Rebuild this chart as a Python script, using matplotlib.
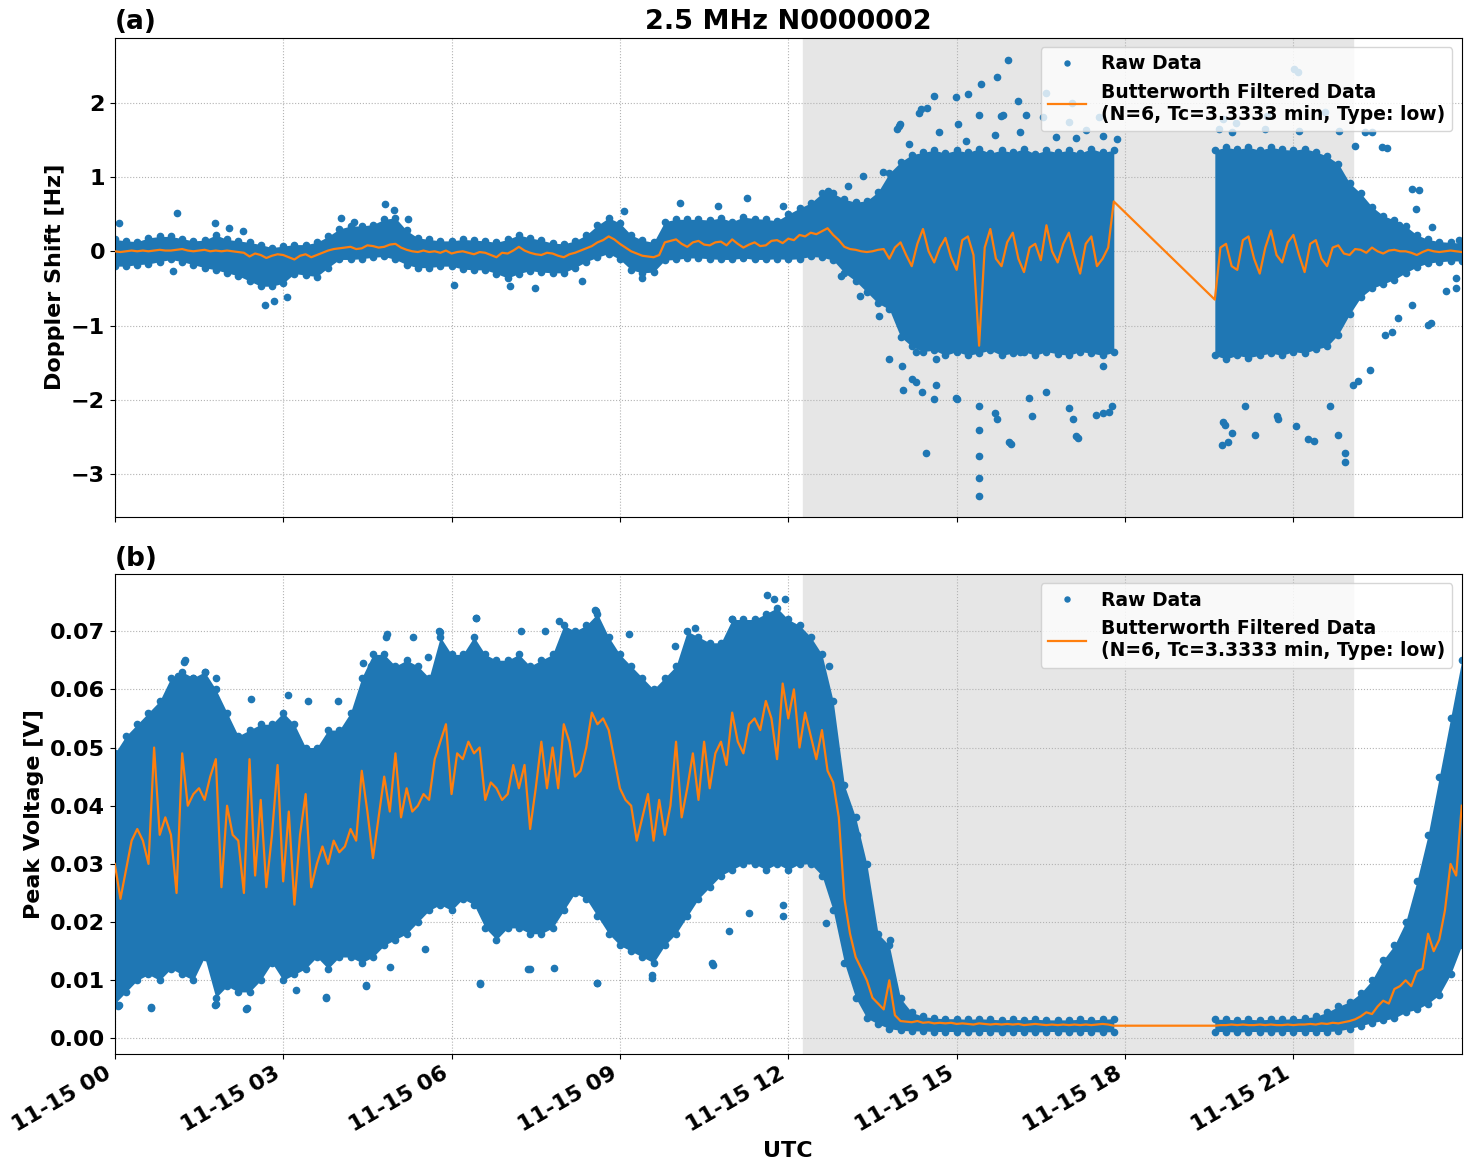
import numpy as np
import matplotlib
matplotlib.use("Agg")
from matplotlib import pyplot as plt
import matplotlib.dates as mdates

plt.rcParams["font.weight"] = "bold"
plt.rcParams["axes.labelweight"] = "bold"
plt.rcParams["axes.titleweight"] = "bold"

# time grids (hours UTC) - two segments, no data between 17.8 h and 19.6 h
hours_a = np.round(np.arange(0, 17.81, 0.2), 1)     # raw-data band
hours_b = np.round(np.arange(19.6, 24.01, 0.2), 1)
filt_hours_a = np.round(np.arange(0, 17.81, 0.1), 1)  # filtered line
filt_hours_b = np.round(np.arange(19.6, 24.01, 0.1), 1)

# (a) Doppler shift: dense band of raw points (low / high edge)
top_hi_a = [0.16, 0.14, 0.13, 0.18, 0.20, 0.20, 0.17, 0.14, 0.15, 0.22,
            0.16, 0.14, 0.12, 0.09, 0.05, 0.07, 0.09, 0.09, 0.12, 0.20,
            0.30, 0.34, 0.34, 0.36, 0.43, 0.45, 0.28, 0.18, 0.16, 0.14,
            0.14, 0.16, 0.15, 0.14, 0.12, 0.16, 0.22, 0.18, 0.15, 0.11,
            0.10, 0.14, 0.22, 0.35, 0.45, 0.38, 0.22, 0.15, 0.12, 0.40,
            0.43, 0.43, 0.43, 0.42, 0.45, 0.40, 0.46, 0.44, 0.43, 0.41,
            0.50, 0.58, 0.65, 0.78, 0.78, 0.70, 0.66, 0.68, 0.80, 1.05,
            1.20, 1.30, 1.33, 1.36, 1.32, 1.36, 1.33, 1.38, 1.32, 1.36,
            1.33, 1.38, 1.31, 1.36, 1.33, 1.36, 1.32, 1.38, 1.33, 1.36]
top_hi_b = [1.36, 1.40, 1.37, 1.40, 1.36, 1.40, 1.37, 1.36, 1.38, 1.34,
            1.28, 1.18, 0.92, 0.78, 0.60, 0.48, 0.42, 0.34, 0.22, 0.16,
            0.13, 0.12, 0.11]
top_lo_a = [-0.20, -0.20, -0.18, -0.17, -0.14, -0.11, -0.14, -0.18, -0.22, -0.25,
            -0.29, -0.33, -0.40, -0.47, -0.47, -0.43, -0.30, -0.32, -0.34, -0.22,
            -0.11, -0.11, -0.10, -0.08, -0.07, -0.11, -0.18, -0.22, -0.22, -0.20,
            -0.20, -0.24, -0.25, -0.25, -0.30, -0.36, -0.30, -0.26, -0.28, -0.29,
            -0.29, -0.22, -0.14, -0.08, -0.03, -0.11, -0.25, -0.29, -0.28, -0.12,
            -0.11, -0.09, -0.09, -0.10, -0.11, -0.11, -0.09, -0.11, -0.11, -0.10,
            -0.11, -0.10, -0.07, -0.08, -0.12, -0.29, -0.40, -0.55, -0.70, -0.78,
            -1.15, -1.28, -1.35, -1.33, -1.40, -1.35, -1.40, -1.37, -1.33, -1.40,
            -1.37, -1.35, -1.40, -1.35, -1.38, -1.40, -1.35, -1.37, -1.40, -1.36]
top_lo_b = [-1.40, -1.45, -1.40, -1.43, -1.40, -1.37, -1.40, -1.35, -1.37, -1.32,
            -1.28, -1.12, -0.85, -0.62, -0.50, -0.44, -0.38, -0.29, -0.21, -0.16,
            -0.14, -0.13, -0.13]
# Butterworth filtered Doppler shift
top_filt_a = [0.00, -0.01, 0.00, 0.01, 0.00, 0.01, 0.00, 0.01, 0.02, 0.01,
              0.01, 0.02, 0.03, 0.01, 0.00, 0.01, 0.02, 0.00, 0.01, 0.00,
              0.01, 0.00, -0.01, -0.02, -0.07, -0.03, -0.05, -0.09, -0.06, -0.04,
              -0.05, -0.08, -0.11, -0.06, -0.04, -0.08, -0.05, -0.02, 0.01, 0.03,
              0.04, 0.05, 0.06, 0.03, 0.04, 0.08, 0.07, 0.05, 0.06, 0.09,
              0.10, 0.05, 0.02, 0.00, -0.01, 0.01, -0.01, 0.00, -0.02, 0.01,
              -0.03, -0.01, 0.00, -0.02, -0.04, -0.01, -0.02, -0.05, -0.08, -0.02,
              -0.03, 0.01, 0.06, 0.01, -0.02, -0.04, -0.05, -0.02, -0.03, -0.06,
              -0.08, -0.04, -0.02, 0.01, 0.04, 0.07, 0.12, 0.15, 0.20, 0.16,
              0.10, 0.05, 0.00, -0.03, -0.06, -0.07, -0.08, -0.05, 0.12, 0.14,
              0.16, 0.10, 0.06, 0.12, 0.14, 0.09, 0.08, 0.12, 0.13, 0.08,
              0.16, 0.10, 0.05, 0.09, 0.12, 0.07, 0.08, 0.14, 0.15, 0.11,
              0.17, 0.15, 0.22, 0.20, 0.25, 0.23, 0.27, 0.31, 0.22, 0.15,
              0.06, 0.03, 0.02, 0.00, -0.01, 0.00, 0.02, 0.03, -0.10, 0.05,
              0.12, -0.05, -0.20, 0.10, 0.30, 0.00, -0.15, 0.05, 0.18, -0.08,
              -0.25, 0.15, 0.20, -0.05, -1.27, 0.05, 0.30, -0.10, -0.20, 0.12,
              0.25, -0.10, -0.28, 0.05, 0.10, -0.12, 0.35, 0.00, -0.15, 0.10,
              0.25, -0.05, -0.30, 0.10, 0.20, -0.20, -0.10, 0.05, 0.67]
top_filt_b = [-0.65, 0.05, 0.10, -0.20,
              -0.25, 0.15, 0.20, -0.10, -0.30, 0.05, 0.28, -0.05, -0.15, 0.12,
              0.22, -0.05, -0.28, 0.10, 0.15, -0.10, -0.20, 0.05, 0.08, -0.03,
              -0.05, 0.03, 0.02, -0.02, 0.05, 0.00, -0.03, 0.01, 0.02, 0.00,
              0.00, -0.02, -0.05, -0.01, 0.02, 0.00, -0.01, 0.00, 0.01, 0.00,
              -0.01]
# scattered raw points outside the dense band
top_out_h = [0.07, 1.11, 1.04, 1.78, 2.04, 2.28, 2.67, 2.83, 3.07, 4.03, 4.26, 4.82,
             4.98, 5.22, 6.05, 7.05, 7.48, 8.32, 9.07, 9.39, 10.07, 10.74, 11.26, 11.9,
             12.7, 12.94, 13.06, 13.27, 13.34, 13.93, 13.97, 14.05, 14.2, 14.36, 14.45,
             14.6, 14.6, 14.99, 15.0, 15.2, 15.39, 15.39, 15.39, 15.39, 15.39, 15.43,
             15.71, 15.71, 15.79, 15.92, 15.97, 16.1, 16.35, 16.6, 17.05, 17.07, 17.16,
             17.53, 17.6, 17.76, 17.85, 19.75, 19.75, 19.83, 19.9, 19.98, 20.14, 20.53,
             20.7, 21.01, 21.05, 21.09, 21.37, 21.56, 21.65, 21.92, 21.92, 22.1, 22.15,
             22.4, 22.67, 22.75, 23.23, 23.46, 23.9,
             13.99, 14.33, 14.48, 15.02, 15.4, 15.82, 16.24, 16.53, 17.0, 17.3, 17.6,
             14.15, 14.69, 15.16, 15.69, 16.12, 16.77, 17.12, 13.68, 13.5,
             14.03, 14.27, 14.39, 14.63, 14.98, 15.69, 15.93, 16.29, 16.59, 17.0,
             17.12, 17.48, 17.72, 13.8, 13.62, 14.63, 16.12, 17.6, 14.27,
             19.67, 19.91, 20.5, 21.1, 21.81, 22.28, 22.58, 23.12, 22.88, 23.47,
             23.18, 23.95, 19.73, 19.79, 20.32, 20.73, 21.26, 21.79, 22.06, 22.36,
             22.63, 22.87, 23.4, 23.72, 23.9, 23.12]
top_out_v = [0.38, 0.52, -0.27, 0.38, 0.31, 0.27, -0.72, -0.67, -0.61, 0.45, 0.40, 0.63,
             0.56, 0.43, -0.45, -0.47, -0.49, -0.40, 0.54, -0.36, 0.65, 0.61, 0.72, 0.61,
             0.81, -0.33, 0.88, -0.60, 1.01, 1.64, 1.69, -1.86, -1.72, 1.91, -2.72,
             2.09, -1.99, 2.07, -1.99, 2.11, -2.08, -2.40, -2.75, -3.05, -3.29, 2.25,
             2.34, -2.26, 1.82, 2.57, -2.59, 2.02, -2.22, 2.13, 2.00, -2.26, -2.51,
             1.80, -2.17, -2.08, 1.51, 1.78, -2.30, -2.57, -2.44, 1.73, -2.08, 1.82,
             -2.22, 2.45, -2.35, 2.41, -2.55, 1.87, -2.08, -2.84, -2.71, 1.42, -1.74,
             1.60, 1.39, -1.09, 0.83, -0.96, -0.49,
             1.71, 1.86, 1.93, 1.71, 1.84, 1.83, 1.84, 1.80, 1.74, 1.63, 1.55,
             1.45, 1.60, 1.49, 1.57, 1.61, 1.54, 1.52, 1.07, 0.49,
             -1.54, -1.76, -1.89, -1.80, -1.98, -2.18, -2.56, -1.98, -1.89, -2.11,
             -2.49, -2.20, -2.16, -1.45, -0.87, -1.45, -1.36, -1.54, -1.36,
             1.64, 1.60, 1.64, 1.62, 1.62, 1.61, 1.40, 0.84, 0.35, 0.33,
             0.57, 0.15, -2.61, -2.34, -2.47, -2.25, -2.52, -2.47, -1.80, -1.60,
             -1.13, -0.90, -0.99, -0.54, -0.36, -0.72]

# (b) Peak voltage: dense band of raw points (low / high edge)
bot_hi_a = [0.049, 0.052, 0.054, 0.056, 0.058, 0.062, 0.063, 0.062, 0.063, 0.060,
            0.056, 0.052, 0.053, 0.054, 0.054, 0.056, 0.054, 0.050, 0.050, 0.053,
            0.053, 0.056, 0.062, 0.066, 0.066, 0.064, 0.065, 0.064, 0.062, 0.069,
            0.066, 0.066, 0.069, 0.066, 0.065, 0.065, 0.066, 0.064, 0.065, 0.066,
            0.071, 0.070, 0.071, 0.073, 0.069, 0.066, 0.064, 0.062, 0.060, 0.062,
            0.064, 0.070, 0.069, 0.068, 0.068, 0.072, 0.072, 0.072, 0.073, 0.074,
            0.072, 0.071, 0.069, 0.066, 0.058, 0.0435, 0.038, 0.030, 0.018, 0.016,
            0.0069, 0.0045, 0.0038, 0.0035, 0.0034, 0.0034, 0.0033, 0.0034, 0.0033, 0.0032,
            0.0033, 0.0032, 0.0033, 0.0032, 0.0032, 0.0032, 0.0033, 0.0032, 0.0033, 0.0034]
bot_hi_b = [0.0033, 0.0033, 0.0032, 0.0033, 0.0032, 0.0033, 0.0033, 0.0034, 0.0035, 0.0038,
            0.0045, 0.0055, 0.0063, 0.0078, 0.010, 0.0135, 0.016, 0.020, 0.027, 0.035,
            0.045, 0.055, 0.065]
bot_lo_a = [0.006, 0.008, 0.010, 0.011, 0.010, 0.012, 0.011, 0.010, 0.014, 0.007,
            0.009, 0.008, 0.008, 0.010, 0.013, 0.010, 0.011, 0.012, 0.014, 0.012,
            0.014, 0.014, 0.013, 0.014, 0.016, 0.017, 0.018, 0.020, 0.022, 0.023,
            0.022, 0.024, 0.023, 0.019, 0.017, 0.019, 0.019, 0.018, 0.018, 0.019,
            0.022, 0.025, 0.024, 0.021, 0.018, 0.016, 0.015, 0.014, 0.013, 0.016,
            0.018, 0.021, 0.024, 0.026, 0.028, 0.029, 0.030, 0.030, 0.029, 0.030,
            0.029, 0.030, 0.030, 0.028, 0.022, 0.013, 0.007, 0.0035, 0.0025, 0.0017,
            0.0014, 0.0013, 0.0013, 0.0012, 0.0012, 0.0012, 0.0011, 0.0012, 0.0012, 0.0011,
            0.0012, 0.0012, 0.0011, 0.0012, 0.0012, 0.0011, 0.0012, 0.0012, 0.0011, 0.0012]
bot_lo_b = [0.0012, 0.0012, 0.0011, 0.0012, 0.0012, 0.0011, 0.0012, 0.0012, 0.0012, 0.0012,
            0.0012, 0.0013, 0.0017, 0.0022, 0.0027, 0.0031, 0.0035, 0.0045, 0.0050, 0.0060,
            0.0075, 0.011, 0.016]
# Butterworth filtered peak voltage
bot_filt_a = [0.030, 0.024, 0.029, 0.034, 0.036, 0.034, 0.030, 0.050, 0.035, 0.038,
              0.035, 0.025, 0.049, 0.040, 0.042, 0.043, 0.041, 0.045, 0.048, 0.026,
              0.040, 0.035, 0.034, 0.025, 0.048, 0.028, 0.041, 0.026, 0.035, 0.047,
              0.027, 0.039, 0.023, 0.035, 0.042, 0.026, 0.030, 0.033, 0.030, 0.034,
              0.032, 0.033, 0.036, 0.034, 0.046, 0.039, 0.031, 0.038, 0.045, 0.039,
              0.049, 0.038, 0.043, 0.039, 0.040, 0.042, 0.041, 0.048, 0.051, 0.054,
              0.042, 0.049, 0.048, 0.051, 0.049, 0.050, 0.041, 0.044, 0.043, 0.041,
              0.042, 0.047, 0.043, 0.047, 0.036, 0.043, 0.051, 0.043, 0.050, 0.043,
              0.054, 0.051, 0.045, 0.046, 0.050, 0.056, 0.054, 0.055, 0.053, 0.048,
              0.043, 0.041, 0.040, 0.034, 0.038, 0.042, 0.034, 0.041, 0.035, 0.040,
              0.051, 0.038, 0.043, 0.049, 0.041, 0.051, 0.043, 0.049, 0.051, 0.047,
              0.056, 0.051, 0.049, 0.054, 0.055, 0.053, 0.058, 0.055, 0.048, 0.061,
              0.055, 0.060, 0.050, 0.056, 0.052, 0.048, 0.053, 0.046, 0.044, 0.038,
              0.024, 0.018, 0.014, 0.012, 0.010, 0.007, 0.006, 0.005, 0.010, 0.004,
              0.0030, 0.0029, 0.0028, 0.0030, 0.0027, 0.0028, 0.0026, 0.0027, 0.0026, 0.0027,
              0.0025, 0.0026, 0.0025, 0.0024, 0.0026, 0.0025, 0.0024, 0.0025, 0.0024, 0.0025,
              0.0024, 0.0025, 0.0023, 0.0024, 0.0025, 0.0024, 0.0023, 0.0024, 0.0023, 0.0024,
              0.0023, 0.0024, 0.0023, 0.0024, 0.0023, 0.0024, 0.0025, 0.0024, 0.0022]
bot_filt_b = [0.0022, 0.0023, 0.0023, 0.0024,
              0.0023, 0.0024, 0.0023, 0.0023, 0.0024, 0.0023, 0.0024, 0.0023, 0.0023, 0.0024,
              0.0023, 0.0024, 0.0024, 0.0025, 0.0024, 0.0026, 0.0025, 0.0027, 0.0026, 0.0028,
              0.0030, 0.0033, 0.0038, 0.0045, 0.0042, 0.0055, 0.0065, 0.0060, 0.0085, 0.0090,
              0.0100, 0.0090, 0.0115, 0.0120, 0.0180, 0.0150, 0.0170, 0.0220, 0.0300, 0.0280,
              0.0400]
bot_out_h = [0.08, 0.65, 1.24, 1.78, 2.35, 3.76, 4.47, 4.84, 5.78, 6.43, 6.5, 7.37,
             8.55, 8.6, 9.58, 10.64, 11.62, 11.91, 11.95, 12.67, 12.72, 13.22, 13.81,
             23.46, 23.58,
             1.25, 1.13, 1.4, 1.6, 1.81, 2.43, 3.09, 3.44, 3.98, 4.42, 4.57, 4.85,
             5.31, 5.79, 5.58, 0.06, 0.65, 1.81, 2.34, 3.23, 3.77, 4.48, 4.9, 5.52,
             6.44, 7.24, 7.66, 7.92, 8.58, 9.17, 9.98, 10.33, 11.0, 11.75,
             6.5, 7.39, 7.83, 8.6, 9.58, 10.65, 10.95, 11.3, 11.9]
bot_out_v = [0.0057, 0.0054, 0.0647, 0.0057, 0.0052, 0.0072, 0.0092, 0.069, 0.070,
             0.0722, 0.0095, 0.012, 0.0736, 0.0095, 0.0109, 0.0129, 0.0762, 0.0229,
             0.0756, 0.0198, 0.064, 0.035, 0.017, 0.033, 0.0378,
             0.065, 0.0623, 0.062, 0.063, 0.062, 0.0583, 0.059, 0.058, 0.058, 0.0646,
             0.064, 0.0695, 0.069, 0.0698, 0.0655, 0.0056, 0.0053, 0.006, 0.005, 0.0084,
             0.007, 0.009, 0.0122, 0.0153,
             0.0723, 0.070, 0.070, 0.0718, 0.0735, 0.0695, 0.0675, 0.0706, 0.072, 0.0755,
             0.0093, 0.0119, 0.0121, 0.0096, 0.0104, 0.0127, 0.0185, 0.0216, 0.021]

night_start, night_end = 12.27, 22.06   # shaded interval (hours)
day0 = np.datetime64("2022-11-15T00:00:00")


def to_time(h):
    return day0 + (np.asarray(h) * 3600).astype("timedelta64[s]")


def draw_panel(ax, lo_a, hi_a, lo_b, hi_b, filt_a, filt_b, out_h, out_v):
    blue, orange = "tab:blue", "tab:orange"
    ax.axvspan(to_time(night_start), to_time(night_end), color="0.9", zorder=0)
    for h, lo, hi in ((hours_a, lo_a, hi_a), (hours_b, lo_b, hi_b)):
        t = to_time(h)
        ax.fill_between(t, lo, hi, color=blue, lw=0, zorder=2)
        ax.plot(t, lo, "o", color=blue, ms=4.5, zorder=2)
        ax.plot(t, hi, "o", color=blue, ms=4.5, zorder=2)
    ax.plot(to_time(out_h), out_v, "o", color=blue, ms=4.5, ls="none",
            label="Raw Data", zorder=2)
    ax.plot(to_time(np.concatenate([filt_hours_a, filt_hours_b])), filt_a + filt_b,
            color=orange, lw=1.6, zorder=3,
            label="Butterworth Filtered Data\n(N=6, Tc=3.3333 min, Type: low)")
    ax.grid(True, linestyle=":", color="0.7")
    ax.set_axisbelow(True)
    ax.legend(loc="upper right", fontsize=13.5, markerscale=0.8)
    ax.tick_params(labelsize=16)


fig, (ax1, ax2) = plt.subplots(2, 1, figsize=(14.72, 11.72), dpi=100, sharex=True)
fig.subplots_adjust(left=0.078, right=0.993, top=0.968, bottom=0.101, hspace=0.119)

draw_panel(ax1, top_lo_a, top_hi_a, top_lo_b, top_hi_b, top_filt_a, top_filt_b,
           top_out_h, top_out_v)
draw_panel(ax2, bot_lo_a, bot_hi_a, bot_lo_b, bot_hi_b, bot_filt_a, bot_filt_b,
           bot_out_h, bot_out_v)

ax1.set_ylim(-3.575, 2.876)
ax2.set_ylim(-0.0026, 0.0798)
ax1.set_yticks([-3, -2, -1, 0, 1, 2])
ax2.set_yticks(np.arange(0, 0.071, 0.01))
ax1.set_ylabel("Doppler Shift [Hz]", fontsize=16)
ax2.set_ylabel("Peak Voltage [V]", fontsize=16)
ax1.set_title("2.5 MHz N0000002", fontsize=19.5)
ax1.set_title("(a)", loc="left", fontsize=19)
ax2.set_title("(b)", loc="left", fontsize=19)

ax2.set_xlim(to_time(0), to_time(23.999))
ax2.xaxis.set_major_locator(mdates.HourLocator(byhour=range(0, 24, 3)))
ax2.xaxis.set_major_formatter(mdates.DateFormatter("%m-%d %H"))
for lab in ax2.get_xticklabels():
    lab.set_rotation(30)
    lab.set_ha("right")
ax2.set_xlabel("UTC", fontsize=16)

fig.savefig("out.png", dpi=100)
